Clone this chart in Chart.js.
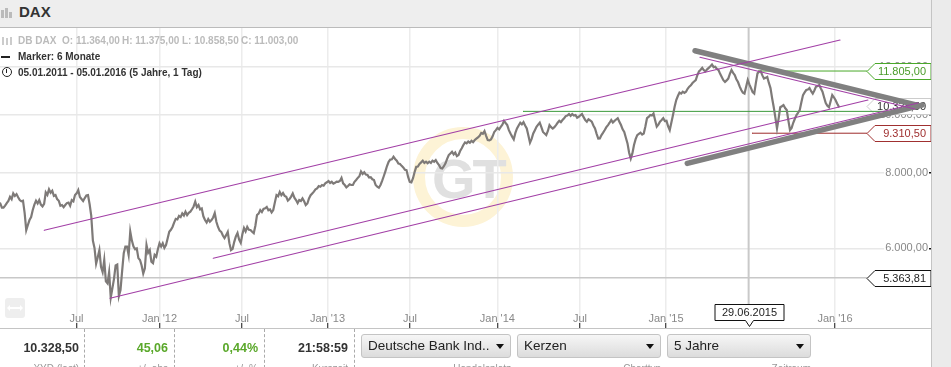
<!DOCTYPE html>
<html>
<head>
<meta charset="utf-8">
<title>DAX</title>
<script src="https://cdn.jsdelivr.net/npm/chart.js@4"></script>
<style>
  html, body { margin: 0; padding: 0; background: #fff; overflow: hidden; }
  body { width: 951px; height: 367px; position: relative; font-family: "Liberation Sans", Arial, sans-serif; }
  .abs { position: absolute; white-space: nowrap; }
  #header { left: 0; top: 0; width: 931px; height: 27px; background: #eee; border-bottom: 1px solid #bbb; }
  #title { left: 19px; top: 3px; font-size: 15px; font-weight: bold; color: #333; }
  .bar { position: absolute; background: #bbb; bottom: 9px; width: 3px; }
  #side { left: 931px; top: 0; width: 20px; height: 367px; background: #ebebeb; border-left: 1px solid #c4c4c4; box-sizing: border-box; }
  #mark { left: 413px; top: 127px; width: 76px; height: 76px; border: 12px solid #fdf3d6; border-radius: 50%; }
  #markText { left: 432px; top: 146px; font-size: 56px; font-weight: bold; color: #e0e0e0; letter-spacing: -3px; }
  #chart { position: absolute; left: 0; top: 28px; }
  .info { font-size: 10px; font-weight: bold; color: #333; }
  .ohlc { font-size: 10px; font-weight: bold; color: #bbb; top: 35px; }
  .candle { position: absolute; top: 37px; width: 2px; background: #ccc; }
  #footer { left: 0; top: 328px; width: 931px; height: 39px; border-top: 1.5px solid #c4c4c4; box-sizing: border-box; overflow: hidden; background: #fff; }
  .val { position: absolute; top: 12px; font-size: 12.5px; font-weight: bold; color: #333; text-align: right; width: 80px; }
  .cap { position: absolute; top: 34px; font-size: 10px; color: #999; text-align: right; width: 80px; }
  .sep { position: absolute; top: 0; height: 39px; border-left: 1px dashed #aaa; }
  .pick { position: absolute; top: 5px; height: 24px; box-sizing: border-box; border: 1px solid #c4c4c4; border-radius: 3px; background: linear-gradient(#f6f6f6, #dcdcdc); font-size: 13.5px; color: #222; line-height: 22px; padding-left: 6px; }
  .pick i { position: absolute; right: 6px; top: 9px; border: 4px solid transparent; border-top: 5px solid #111; border-bottom: 0; }
  #zoomBtn { left: 5px; top: 298px; width: 20px; height: 20px; background: #eee; border-radius: 3px; }
  #zoomBtn b { position: absolute; left: 4px; top: 9px; width: 12px; height: 2px; background: #fff; }
  #zoomBtn i { position: absolute; top: 7px; border: 3px solid transparent; }
</style>
</head>
<body>
<div class="abs" id="mark"></div>
<div class="abs" id="markText">GT</div>
<canvas id="chart" width="931" height="300"></canvas>

<div class="abs" id="header">
  <div class="bar" style="left:1px;height:8px"></div>
  <div class="bar" style="left:5px;height:10px"></div>
  <div class="bar" style="left:9px;height:6px"></div>
</div>
<div class="abs" id="side"></div>
<div class="abs" id="title">DAX</div>
<div class="candle" style="left:2px;height:8px"></div>
<div class="candle" style="left:6px;top:38px;height:7px"></div>
<div class="candle" style="left:10px;height:8px"></div>
<div class="abs ohlc" style="left:18px">DB DAX</div>
<div class="abs ohlc" style="left:62px">O: 11.364,00</div>
<div class="abs ohlc" style="left:122px">H: 11.375,00</div>
<div class="abs ohlc" style="left:182px">L: 10.858,50</div>
<div class="abs ohlc" style="left:241px">C: 11.003,00</div>
<div class="abs" style="left:1px;top:56px;width:9px;height:2px;background:#222"></div>
<div class="abs info" style="left:18px;top:51px">Marker: 6 Monate</div>
<div class="abs" style="left:2px;top:67px;width:8px;height:8px;border:1px solid #222;border-radius:50%"></div>
<div class="abs" style="left:6px;top:69px;width:1px;height:4px;background:#222"></div>
<div class="abs info" style="left:18px;top:67px">05.01.2011 - 05.01.2016 (5 Jahre, 1 Tag)</div>
<div class="abs" id="zoomBtn"><b></b><i style="left:-1px;border-right-color:#fff"></i><i style="left:15px;border-left-color:#fff"></i></div>

<div class="abs" id="footer">
  <div class="val" style="left:-1px">10.328,50</div>
  <div class="cap" style="left:-1px">XYD (last)</div>
  <div class="sep" style="left:84px"></div>
  <div class="val" style="left:88px;color:#5aa82a">45,06</div>
  <div class="cap" style="left:88px">+/- abs</div>
  <div class="sep" style="left:174px"></div>
  <div class="val" style="left:178px;color:#5aa82a">0,44%</div>
  <div class="cap" style="left:178px">+/- %</div>
  <div class="sep" style="left:264px"></div>
  <div class="val" style="left:268px">21:58:59</div>
  <div class="cap" style="left:268px">Kurszeit</div>
  <div class="sep" style="left:354px"></div>
  <div class="pick" style="left:361px;width:150px">Deutsche Bank Ind..<i></i></div>
  <div class="cap" style="left:431px">Handelsplatz</div>
  <div class="pick" style="left:517px;width:144px">Kerzen<i></i></div>
  <div class="cap" style="left:581px">Charttyp</div>
  <div class="pick" style="left:667px;width:144px">5 Jahre<i></i></div>
  <div class="cap" style="left:731px">Zeitraum</div>
</div>

<script>
// weekly DAX levels
const dax2011 = [7125, 7010, 7130, 7305, 7400, 7380, 7215, 7195, 6430, 6684, 6944, 7195, 7214, 7040, 7430, 7515, 7475, 7353, 7195, 7078, 7078, 7145, 7214, 7353, 7495, 7245, 7270, 7353, 6790, 6010, 5800, 5590, 5738, 5250, 4970, 5340, 5640, 5117, 5890, 6040, 6400, 6040, 6000, 5738, 5450, 6076, 5961, 5670, 5810];
const dax2012 = [6115, 6115, 6076, 6390, 6510, 6715, 6790, 6855, 6900, 6870, 6965, 7170, 7078, 6985, 6684, 6710, 6684, 6865, 6510, 6390, 6240, 6390, 5961, 6150, 6360, 6125, 6485, 6510, 6434, 6355, 6813, 6944, 6975, 7025, 6960, 6944, 7353, 7440, 7410, 7305, 7240, 7400, 7214, 7214, 7260, 7078, 7260, 7400, 7515, 7610, 7640, 7690];
const dax2013 = [7760, 7735, 7705, 7735, 7850, 7640, 7610, 7640, 7735, 7850, 8045, 8020, 7936, 7870, 7786, 7590, 7640, 7900, 8215, 8420, 8510, 8385, 8280, 8170, 8089, 7735, 7840, 8190, 8280, 8385, 8350, 8350, 8385, 8404, 8245, 8135, 8300, 8566, 8675, 8650, 8566, 8790, 8990, 9020, 9045, 9071, 9165, 9320, 9385, 9071, 9095, 9355];
const dax2014 = [9500, 9540, 9760, 9605, 9300, 9095, 9480, 9690, 9710, 9480, 8980, 9300, 9540, 9690, 9355, 9245, 9605, 9480, 9605, 9760, 9790, 9940, 10020, 10020, 9980, 9915, 10020, 9790, 9820, 9730, 9480, 9125, 9245, 9424, 9605, 9790, 9760, 9860, 9605, 9355, 8955, 8450, 8899, 9245, 9330, 9300, 9860, 9979, 10040, 9545, 9730, 9860];
const dax2015 = [9760, 9424, 9979, 10567, 10870, 10910, 10910, 11120, 11275, 11405, 11790, 11950, 11790, 11950, 12100, 12000, 11848, 11540, 11320, 11470, 11848, 11624, 11320, 10978, 10830, 11405, 11060, 10830, 11700, 11790, 11470, 11540, 11060, 10280, 9480, 10280, 10367, 10171, 9424, 9690, 9979, 10171, 10770, 10978, 11060, 10830, 11120, 11189, 10910, 10450, 10280, 10770];
const dax2016 = [10567, 10310];

// mid-week swings between those points
const mid2011 = [7010, 7060, 7190, 7240, 7330, 7290, 7180, 6870, 6560, 6760, 7090, 7120, 7090, 7110, 7360, 7420, 7330, 7240, 7060, 7020, 7130, 7060, 7180, 7400, 7300, 7190, 7340, 7100, 6180, 5660, 5960, 5480, 5290, 5480, 5150, 5620, 5000, 5500, 6040, 5850, 6180, 5980, 5780, 5620, 5560, 5900, 5700, 5850, 5980];
const mid2012 = [6040, 6010, 6230, 6440, 6620, 6700, 6760, 6800, 6810, 6900, 7040, 7020, 6960, 6780, 6620, 6640, 6750, 6640, 6420, 6300, 6310, 6120, 5990, 6280, 6200, 6330, 6400, 6440, 6390, 6540, 6850, 6890, 6990, 6940, 6880, 7150, 7320, 7350, 7330, 7200, 7310, 7280, 7130, 7190, 7180, 7120, 7350, 7450, 7540, 7590, 7620, 7720];
const mid2013 = [7700, 7680, 7740, 7760, 7690, 7570, 7660, 7640, 7790, 7900, 7970, 7950, 7860, 7810, 7640, 7560, 7760, 8050, 8350, 8430, 8440, 8290, 8220, 8100, 7880, 7720, 8030, 8200, 8330, 8310, 8300, 8310, 8350, 8310, 8150, 8210, 8440, 8620, 8590, 8530, 8700, 8900, 8960, 8980, 9000, 9120, 9220, 9290, 9220, 9060, 9200, 9420];
const mid2014 = [9450, 9620, 9680, 9420, 9190, 9320, 9590, 9630, 9590, 9230, 9110, 9420, 9620, 9530, 9300, 9390, 9530, 9530, 9690, 9710, 9860, 9960, 9950, 9960, 9880, 9970, 9900, 9730, 9780, 9590, 9290, 9130, 9330, 9530, 9690, 9700, 9810, 9730, 9450, 9150, 8640, 8620, 9100, 9290, 9260, 9550, 9910, 9960, 9780, 9620, 9790, 9750];
const mid2015 = [9560, 9700, 10300, 10730, 10830, 10860, 11030, 11180, 11340, 11620, 11860, 11840, 11880, 12020, 11980, 11900, 11680, 11400, 11390, 11680, 11720, 11440, 11130, 10870, 11120, 11220, 10890, 11280, 11770, 11610, 11500, 11280, 10640, 9880, 9850, 10320, 10250, 9770, 9500, 9840, 10070, 10480, 10880, 11000, 10930, 10960, 11150, 11040, 10670, 10340, 10520, 10680];
const mid2016 = [10430];

const tickDates = [2011.509, 2012, 2012.488, 2012.994, 2013.482, 2013.999, 2014.488, 2014.997, 2015.997];
const tickLabels = ['Jul', "Jan '12", 'Jul', "Jan '13", 'Jul', "Jan '14", 'Jul', "Jan '15", "Jan '16"];
const yTicks = [6000, 8000, 10000, 12000];
const yLabels = ['6.000,00', '8.000,00', '10.000,00', '12.000,00'];

// drawn lines, [start date, start level, end date, end level]
const channelLow = [2011.707, 4958, 2016.488, 10447];
const channelMid = [2012.318, 5776, 2016.192, 10567];
const channelTop = [2011.318, 6427, 2016.027, 13288];
const channelDown = [2015.198, 12441, 2016.470, 10210];
const trendTop = [2015.169, 12755, 2016.482, 10367];
const trendBottom = [2015.123, 8299, 2016.512, 10367];
const supportLine = [2014.151, 10120, 2016.352, 10120];
const highLine = [2015.541, 11805, 2016.186, 11805];
const lowLine = [2015.506, 9310.5, 2016.186, 9310.5];
const startLine = [2011.0562, 5363.81, 2016.186, 5363.81];

const crossDate = 2015.486;
const crossLabel = '29.06.2015';
const xMin = 2011.0562, xMax = 2016.5296;
const yMin = 4512, yMax = 13912;

function weekly(start, values, mids) {
  const pts = [];
  values.forEach((v, i) => {
    pts.push({ x: start + i / 52, y: v });
    if (mids[i] !== undefined) pts.push({ x: start + (i + 0.5) / 52, y: mids[i] });
  });
  return pts;
}
function segment(s) {
  return [{ x: s[0], y: s[1] }, { x: s[2], y: s[3] }];
}
function lineSet(data, color, width) {
  return { data: data, borderColor: color, borderWidth: width, pointRadius: 0, tension: 0, borderCapStyle: 'round' };
}

const daxPoints = [].concat(
  weekly(2011 + 3 / 52, dax2011, mid2011), weekly(2012, dax2012, mid2012), weekly(2013, dax2013, mid2013),
  weekly(2014, dax2014, mid2014), weekly(2015, dax2015, mid2015), weekly(2016, dax2016, mid2016)
);

const purple = '#a23fa6';

const tags = [
  { value: 10328.5, text: '10.328,50', border: '#ccc', color: '#333', under: true },
  { value: 11805, text: '11.805,00', border: '#4aa82a', color: '#4a9a2a' },
  { value: 9310.5, text: '9.310,50', border: '#a03030', color: '#a03030' },
  { value: 5363.81, text: '5.363,81', border: '#111', color: '#222' }
];

function drawTag(chart, tag) {
  const ctx = chart.ctx;
  const y = Math.round(chart.scales.y.getPixelForValue(tag.value)) + 0.5;
  ctx.beginPath();
  ctx.moveTo(867, y);
  ctx.lineTo(875, y - 8);
  ctx.lineTo(931, y - 8);
  ctx.lineTo(931, y + 8);
  ctx.lineTo(875, y + 8);
  ctx.closePath();
  ctx.fillStyle = '#fff';
  ctx.fill();
  ctx.strokeStyle = tag.border;
  ctx.lineWidth = 1;
  ctx.stroke();
  ctx.fillStyle = tag.color;
  ctx.font = '11px "Liberation Sans"';
  ctx.textAlign = 'right';
  ctx.textBaseline = 'middle';
  ctx.fillText(tag.text, 926, y + 0.5);
}

const tagPlugin = {
  id: 'tagPlugin',
  beforeDatasetsDraw(chart) {
    tags.filter(t => t.under).forEach(t => drawTag(chart, t));
  },
  afterDatasetsDraw(chart) {
    tags.filter(t => !t.under).forEach(t => drawTag(chart, t));

    // date flag under the crosshair
    const ctx = chart.ctx;
    const x = Math.round(chart.scales.x.getPixelForValue(crossDate)) + 0.5;
    const top = 276.5, bottom = 292.5;
    ctx.beginPath();
    ctx.moveTo(x - 34.5, top);
    ctx.lineTo(x + 34.5, top);
    ctx.lineTo(x + 34.5, bottom);
    ctx.lineTo(x + 4, bottom);
    ctx.lineTo(x, bottom + 6);
    ctx.lineTo(x - 4, bottom);
    ctx.lineTo(x - 34.5, bottom);
    ctx.closePath();
    ctx.fillStyle = '#fff';
    ctx.fill();
    ctx.strokeStyle = '#111';
    ctx.lineWidth = 1;
    ctx.stroke();
    ctx.fillStyle = '#222';
    ctx.font = '11px "Liberation Sans"';
    ctx.textAlign = 'center';
    ctx.textBaseline = 'middle';
    ctx.fillText(crossLabel, x, top + 8.5);
  }
};

new Chart(document.getElementById('chart').getContext('2d'), {
  type: 'line',
  plugins: [tagPlugin],
  data: {
    datasets: [
      lineSet(segment(channelLow), purple, 1.1),
      lineSet(segment(channelMid), purple, 1.1),
      lineSet(segment(channelTop), purple, 1.1),
      lineSet(segment(channelDown), purple, 1.1),
      lineSet(segment(trendTop), '#808080', 5.5),
      lineSet(segment(trendBottom), '#808080', 5.5),
      lineSet(daxPoints, '#7e7a78', 2.2),
      lineSet(segment(supportLine), '#3a9a3a', 1),
      lineSet(segment(highLine), '#4aa82a', 1),
      lineSet(segment(lowLine), '#9e2b2b', 1),
      lineSet(segment(startLine), '#c8c8c8', 1.5),
      lineSet([{ x: crossDate, y: yMin }, { x: crossDate, y: yMax }], '#c9c9c9', 2)
    ]
  },
  options: {
    responsive: false,
    animation: false,
    layout: { padding: 0 },
    plugins: { legend: { display: false }, tooltip: { enabled: false } },
    scales: {
      x: {
        type: 'linear',
        min: xMin,
        max: xMax,
        afterBuildTicks: s => { s.ticks = tickDates.map(v => ({ value: v })); },
        afterFit: s => { s.height = 5; s.paddingLeft = 0; s.paddingRight = 0; },
        border: { display: false },
        grid: { color: '#ececec', lineWidth: 1.5, tickColor: '#111', tickLength: 5, tickWidth: 1 },
        ticks: {
          mirror: true,
          maxRotation: 0,
          padding: -3,
          color: '#888',
          font: { family: 'Liberation Sans', size: 11 },
          callback: (v, i) => tickLabels[i]
        }
      },
      y: {
        type: 'logarithmic',
        position: 'right',
        min: yMin,
        max: yMax,
        afterBuildTicks: s => { s.ticks = yTicks.map(v => ({ value: v })); },
        afterFit: s => { s.width = 6; s.paddingTop = 0; s.paddingBottom = 0; },
        border: { display: false },
        grid: { color: '#e8e8e8', lineWidth: 1.5, tickColor: '#111', tickLength: 6, tickWidth: 1.5 },
        ticks: {
          mirror: true,
          padding: 3,
          color: '#888',
          font: { family: 'Liberation Sans', size: 11 },
          showLabelBackdrop: true,
          backdropColor: '#fff',
          backdropPadding: 1,
          callback: (v, i) => yLabels[i]
        }
      }
    }
  }
});
</script>
</body>
</html>
